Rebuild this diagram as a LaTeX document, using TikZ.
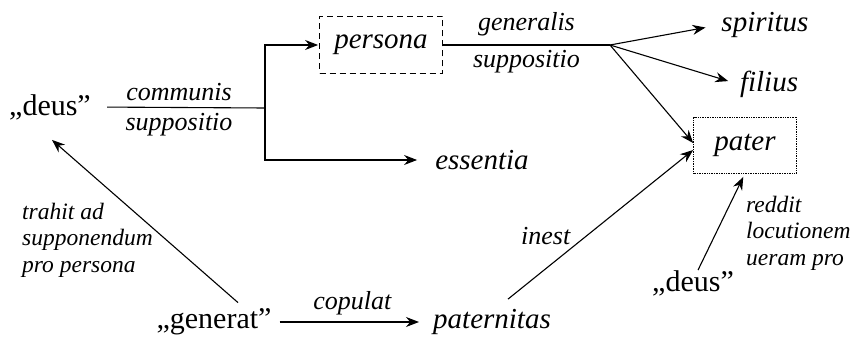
\documentclass[tikz,border=0pt]{standalone}
\usepackage{fontspec}
\setmainfont{Liberation Serif}
\usetikzlibrary{arrows.meta,positioning}

\begin{document}
\begin{tikzpicture}[x=1pt,y=-1pt,
  term/.style={inner sep=2pt,font=\fontsize{29}{34}\selectfont\itshape},
  word/.style={inner sep=2pt,font=\fontsize{30}{35}\selectfont},
  lbl/.style={inner sep=2pt,font=\fontsize{26}{30}\selectfont\itshape},
  note/.style={inner sep=0pt,align=left,font=\fontsize{23.5}{26.5}\selectfont\itshape},
  line/.style={line width=1.1pt},
  arr/.style={line width=1.1pt,-{Stealth[length=13pt,width=10pt]}}]
\useasboundingbox (0,0) rectangle (854,339);
\node[word] (deusA) at (50,107) {„deus”};
\coordinate (forkA) at (265,108);
\node[term,draw,dashed,dash pattern=on 6pt off 4pt,line width=0.8pt,minimum width=123pt,minimum height=57pt] (persona) at (381,45) {persona};
\node[term] (essentia) at (482,160) {essentia};
\coordinate (forkB) at (610,45);
\node[term] (spiritus) at (765,25) {spiritus};
\node[term] (filius) at (769,84) {filius};
\node[term,draw,densely dotted,line width=0.7pt,minimum width=103pt,minimum height=56pt] (pater) at (745,145) {pater};
\node[word] (generat) at (214,322) {„generat”};
\node[term] (paternitas) at (492,322) {paternitas};
\node[word] (deusB) at (693,283) {„deus”};
\node[note,anchor=west] (trahit) at (22,240) {trahit ad\\supponendum\\pro persona};
\node[note,anchor=west] (reddit) at (746,233) {reddit\\locutionem\\ueram pro};
% communis suppositio
\draw[line,shorten <=14pt] (deusA.east) -- (forkA)
  node[lbl,midway,above=4pt] {communis} node[lbl,midway,below=3pt] {suppositio};
\draw[arr,shorten >=1pt] (forkA) |- (persona.west);
\draw[arr,shorten >=16pt] (forkA) |- (essentia.west);
% generalis suppositio
\draw[line] (persona.east) -- (forkB)
  node[lbl,midway,above=6pt] {generalis} node[lbl,midway,below=3pt] {suppositio};
\draw[arr,shorten >=14pt] (forkB) -- (spiritus.west);
\draw[arr,shorten >=10pt] (forkB) -- (filius.west);
\draw[arr] (forkB) -- ([yshift=2pt]pater.west);
% lower part
\draw[arr] ([xshift=24pt,yshift=4pt]generat.north) -- ([shift={(2,18)}]deusA.south);
\draw[arr,shorten <=6pt,shorten >=12pt] (generat.east) -- (paternitas.west)
  node[lbl,midway,above=4pt] {copulat};
\draw[arr] ([xshift=16pt,yshift=8pt]paternitas.north) -- ([yshift=-5pt]pater.west)
  node[lbl,pos=0.35,above left] {inest};
\draw[arr,shorten >=4pt] ([xshift=5pt,yshift=-2pt]deusB.north) -- (pater.south);
\end{tikzpicture}
\end{document}
